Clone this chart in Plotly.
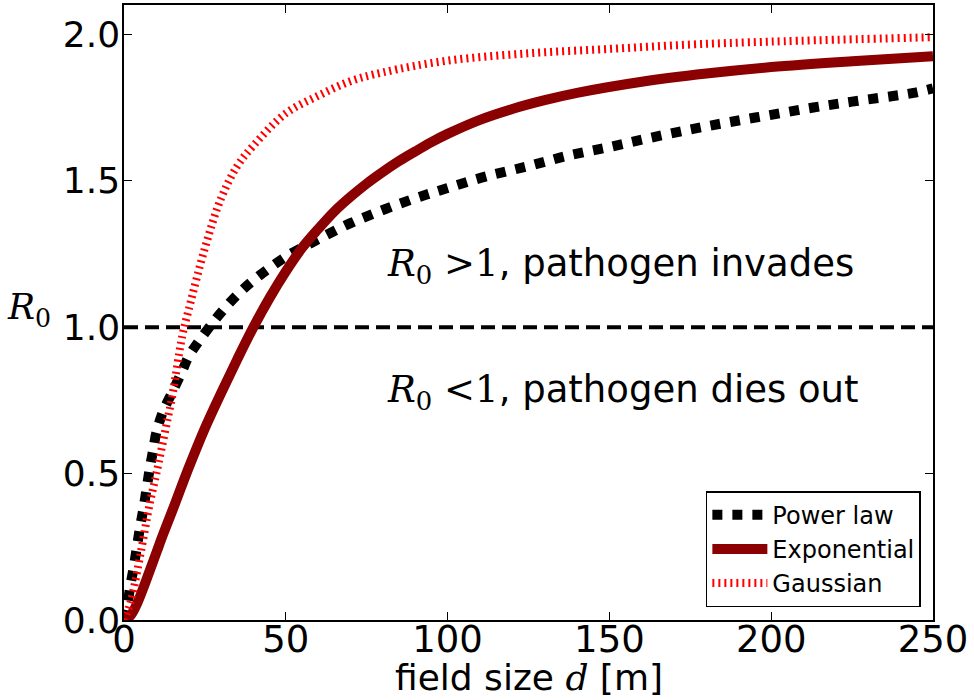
import plotly.graph_objects as go

# ---- data ----
d_power = [0, 1, 2, 3, 4, 5, 6, 7, 8, 9, 10, 12, 15, 18, 20, 25, 30, 35, 40, 50, 60, 70, 80, 90,
           100, 112, 125, 137, 150, 162, 175, 187, 200, 213, 225, 244, 250]
r_power = [0.0, 0.05, 0.12, 0.18, 0.25, 0.32, 0.38, 0.45, 0.52, 0.58, 0.64, 0.71, 0.78, 0.85, 0.90,
           0.98, 1.05, 1.11, 1.16, 1.24, 1.30, 1.355, 1.40, 1.44, 1.475, 1.515, 1.55, 1.585, 1.615,
           1.645, 1.675, 1.70, 1.725, 1.75, 1.77, 1.80, 1.815]

d_exp = [0, 2, 4, 6, 8, 10, 12, 15, 20, 25, 30, 35, 40, 45, 50, 55, 60, 65, 70, 75, 80, 85, 90,
         95, 100, 110, 120, 130, 140, 160, 180, 200, 225, 250]
r_exp = [0.0, 0.015, 0.055, 0.11, 0.17, 0.23, 0.29, 0.375, 0.52, 0.655, 0.775, 0.89, 1.0, 1.10,
         1.19, 1.27, 1.335, 1.395, 1.445, 1.49, 1.53, 1.567, 1.60, 1.632, 1.66, 1.708, 1.745,
         1.775, 1.80, 1.838, 1.866, 1.888, 1.908, 1.925]

d_gauss = [0, 2, 5, 8, 10, 13, 15, 18, 20, 25, 30, 35, 40, 50, 60, 70, 80, 100, 125, 150, 175,
           200, 250]
r_gauss = [0.0, 0.06, 0.22, 0.40, 0.50, 0.66, 0.77, 0.97, 1.06, 1.27, 1.44, 1.55, 1.62, 1.73,
           1.79, 1.84, 1.87, 1.91, 1.935, 1.95, 1.965, 1.975, 1.99]

threshold = 1.0
x_range = [0, 250]
y_range = [0, 2.1]
x_ticks = [0, 50, 100, 150, 200, 250]
y_ticks = [0.0, 0.5, 1.0, 1.5, 2.0]
y_tick_labels = ["0.0", "0.5", "1.0", "1.5", "2.0"]

SERIF = "'DejaVu Serif', 'Liberation Serif', serif"

fig = go.Figure()

fig.add_trace(go.Scatter(x=x_range, y=[threshold, threshold], mode="lines",
                         line=dict(color="black", width=4, dash="14px,7px"),
                         showlegend=False, hoverinfo="skip"))

fig.add_trace(go.Scatter(x=d_power, y=r_power, mode="lines", name="Power law",
                         line=dict(color="black", width=10, dash="10px,10px", shape="spline")))
fig.add_trace(go.Scatter(x=d_exp, y=r_exp, mode="lines", name="Exponential",
                         line=dict(color="#8b0000", width=10, shape="spline")))
fig.add_trace(go.Scatter(x=d_gauss, y=r_gauss, mode="lines", name="Gaussian",
                         line=dict(color="#ff0000", width=8, dash="2px,4px", shape="spline")))

axis_common = dict(showline=True, linecolor="black", linewidth=1.5, mirror="allticks",
                   ticks="inside", ticklen=8, tickwidth=1.2, tickcolor="black",
                   showgrid=False, zeroline=False, automargin=False)

fig.update_xaxes(range=x_range, tickvals=x_ticks, ticklabelstandoff=-14,
                 tickfont=dict(family="DejaVu Sans", size=37, color="black"), **axis_common)
fig.update_yaxes(range=y_range, tickvals=y_ticks, ticktext=y_tick_labels, ticklabelstandoff=-5,
                 tickfont=dict(family="DejaVu Sans", size=36, color="black"), **axis_common)

fig.add_annotation(x=80.5, y=1.21, xref="x", yref="y", xanchor="left", yanchor="middle",
                   showarrow=False,
                   text=f"<span style=\"font-family:{SERIF}\"><i>R</i><sub>0</sub> &gt;1</span>, pathogen invades",
                   font=dict(family="DejaVu Sans", size=37, color="black"))
fig.add_annotation(x=80.5, y=0.78, xref="x", yref="y", xanchor="left", yanchor="middle",
                   showarrow=False,
                   text=f"<span style=\"font-family:{SERIF}\"><i>R</i><sub>0</sub> &lt;1</span>, pathogen dies out",
                   font=dict(family="DejaVu Sans", size=37, color="black"))

fig.add_annotation(x=-0.118, y=1.06, xref="paper", yref="y", xanchor="center", yanchor="middle",
                   showarrow=False,
                   text="<i>R</i><sub>0</sub>",
                   font=dict(family="DejaVu Serif", size=36, color="black"))

fig.add_annotation(x=0.5, y=-0.094, xref="paper", yref="paper", xanchor="center", yanchor="middle",
                   showarrow=False,
                   text=f"field size <span style=\"font-family:{SERIF}\"><i>d</i></span> [m]",
                   font=dict(family="DejaVu Sans", size=36, color="black"))

fig.update_layout(
    width=974, height=700,
    margin=dict(l=124, r=41, t=5, b=80),
    plot_bgcolor="white", paper_bgcolor="white",
    legend=dict(x=0.985, y=0.021, xanchor="right", yanchor="bottom",
                bordercolor="black", borderwidth=1.5, bgcolor="white", itemwidth=55,
                font=dict(family="DejaVu Sans", size=24, color="black")),
)

fig.write_html("out.html", config={"displayModeBar": False},
               post_script="document.body.style.margin='0px';")
